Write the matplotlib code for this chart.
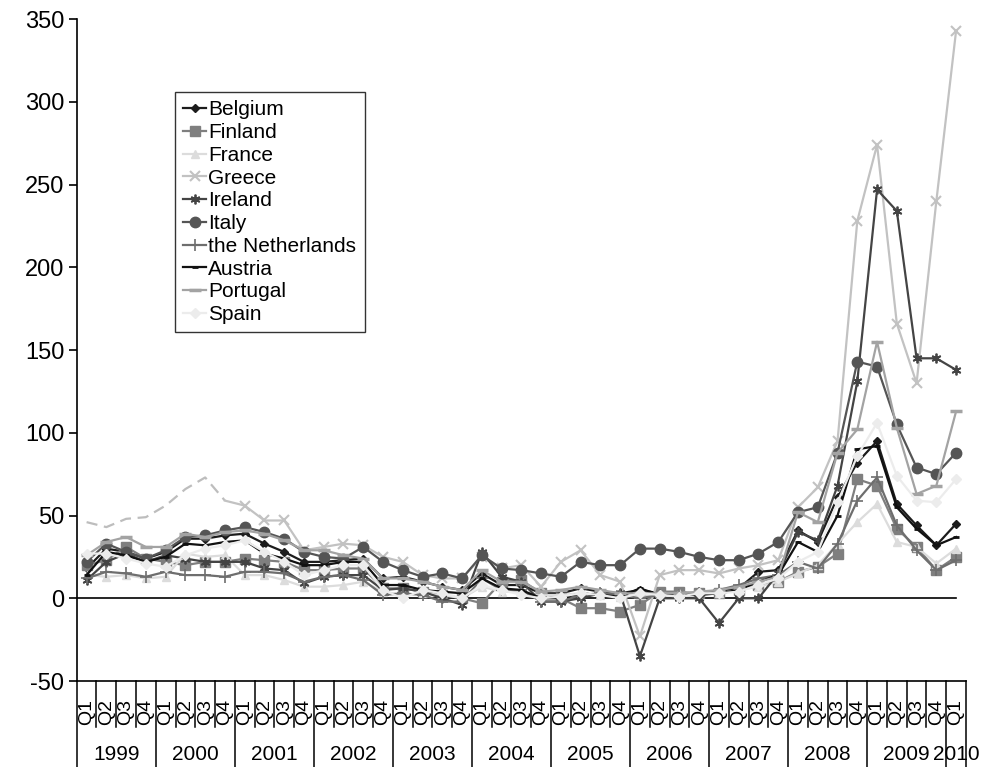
import matplotlib
matplotlib.use("Agg")
import matplotlib.pyplot as plt
from matplotlib.transforms import blended_transform_factory

plt.rcParams['font.family'] = ['Liberation Sans', 'DejaVu Sans']
plt.rcParams['axes.unicode_minus'] = False

# Quarterly periods 1999 Q1 .. 2010 Q1
years = ["1999", "2000", "2001", "2002", "2003", "2004", "2005",
         "2006", "2007", "2008", "2009", "2010"]
quarters_per_year = [4] * 11 + [1]
quarter_labels = ["Q1", "Q2", "Q3", "Q4"] * 11 + ["Q1"]

belgium = [18, 30, 28, 24, 28, 36, 36, 38, 39, 33, 28, 22, 22, 23, 24, 12,
           13, 10, 7, 5, 15, 8, 8, 3, 3, 6, 4, 3, 5, 3, 2, 2,
           4, 6, 16, 17, 41, 34, 61, 82, 95, 57, 44, 32, 45]
finland = [20, 23, 31, 24, 22, 20, 22, 22, 24, 23, 22, 17, 17, 18, 18, 6,
           6, 4, 2, 0, -3, 10, 11, 3, 0, -6, -6, -8, -4, 4, 4, 3,
           3, 5, 8, 10, 16, 19, 27, 72, 68, 42, 31, 17, 25]
france = [14, 13, 14, 12, 13, 27, 25, 26, 14, 14, 11, 7, 7, 8, 10, 4,
          2, 3, 2, 0, 7, 4, 4, 2, 2, 3, 2, 1, 2, 2, 3, 4,
          3, 5, 7, 10, 15, 20, 33, 46, 57, 34, 31, 21, 30]
greece_pre = [46, 43, 48, 49, 56, 66, 73, 59]
greece = [56, 47, 47, 29, 31, 33, 32, 25,
          22, 14, 12, 12, 25, 18, 20, 7, 22, 29, 14, 10, -23, 14, 17, 17,
          15, 18, 20, 23, 55, 67, 95, 228, 274, 166, 130, 240, 343]
ireland = [11, 22, 27, 22, 26, 24, 22, 22, 22, 18, 17, 9, 13, 14, 14, 5,
           6, 4, 0, -4, 28, 13, 10, -2, -2, 0, 3, 3, -35, 0, 0, 0,
           -15, 0, 0, 15, 40, 35, 68, 131, 247, 234, 145, 145, 138]
italy = [22, 33, 28, 24, 29, 37, 38, 41, 43, 40, 36, 28, 25, 24, 31, 22,
         17, 13, 15, 12, 26, 18, 17, 15, 13, 22, 20, 20, 30, 30, 28, 25,
         23, 23, 27, 34, 52, 55, 88, 143, 140, 105, 79, 75, 88]
netherlands = [12, 16, 15, 13, 16, 14, 14, 13, 16, 16, 15, 10, 13, 14, 11, 2,
               3, 2, -2, -2, 12, 5, 5, -2, -2, 2, 3, 2, 0, 2, 2, 3,
               5, 8, 12, 14, 22, 18, 33, 59, 73, 44, 29, 17, 23]
austria = [14, 28, 26, 22, 25, 33, 32, 34, 35, 27, 24, 20, 20, 22, 22, 8,
           8, 5, 4, 3, 12, 6, 5, 0, 0, 3, 2, 1, 6, 2, 2, 2,
           3, 5, 10, 14, 34, 28, 50, 90, 92, 55, 42, 32, 37]
portugal = [26, 34, 37, 31, 31, 39, 37, 40, 41, 39, 35, 29, 29, 26, 24, 12,
            12, 10, 7, 5, 17, 10, 10, 4, 5, 7, 5, 3, 3, 3, 3, 4,
            5, 7, 10, 13, 52, 46, 88, 102, 155, 103, 63, 68, 113]
spain = [27, 27, 24, 21, 19, 26, 30, 32, 35, 28, 22, 14, 17, 20, 20, 5,
         0, 5, 3, 0, 8, 5, 2, 0, 1, 3, 2, 0, 3, 2, 1, 3,
         3, 4, 8, 12, 22, 28, 58, 86, 106, 74, 59, 58, 72]

n = len(quarter_labels)
x = list(range(n))

fig = plt.figure(figsize=(9.81, 7.67), dpi=100)
ax = fig.add_axes([0.0782, 0.1121, 0.9065, 0.8631])

lw = 1.6
asterisk = (6, 2, 0)

ax.plot(x, belgium, color="#1c1c1c", lw=lw, marker="D", ms=4, label="Belgium")
ax.plot(x, finland, color="#7f7f7f", lw=lw, marker="s", ms=6.5, label="Finland")
ax.plot(x, france, color="#dcdcdc", lw=lw, marker="^", ms=6, label="France")
ax.plot(x[:8], greece_pre, color="#bdbdbd", lw=lw, dashes=(5, 3))
ax.plot(x[7:], [greece_pre[-1]] + greece, color="#c2c2c2", lw=lw,
        marker="x", ms=6.5, mew=1.5, markevery=list(range(1, len(greece) + 1)))
ax.plot([], [], color="#c2c2c2", lw=lw, marker="x", ms=6.5, mew=1.5, label="Greece")
ax.plot(x, ireland, color="#444444", lw=lw, marker=asterisk, ms=7, mew=1.3, label="Ireland")
ax.plot(x, italy, color="#555555", lw=lw, marker="o", ms=7.5, label="Italy")
ax.plot(x, netherlands, color="#6e6e6e", lw=lw, marker="+", ms=9, mew=1.2,
        label="the Netherlands")
ax.plot(x, austria, color="#111111", lw=lw, marker="_", ms=5, mew=2, label="Austria")
ax.plot(x, portugal, color="#a3a3a3", lw=lw, marker="_", ms=8, mew=2.5, label="Portugal")
ax.plot(x, spain, color="#ececec", lw=lw, marker="D", ms=5, label="Spain")

# zero reference line
ax.plot([-0.5, n - 1], [0, 0], color="black", lw=1.2, zorder=0.5)

ax.set_xlim(-0.5, n - 0.5)
ax.set_ylim(-50, 350)
ax.set_yticks(range(-50, 351, 50))
ax.tick_params(axis="y", labelsize=17, length=6, width=1.2, pad=3, direction="out")
ax.set_xticks([])
for s in ("top", "right"):
    ax.spines[s].set_visible(False)
for s in ("left", "bottom"):
    ax.spines[s].set_linewidth(1.2)

# category axis: quarter cells grouped by year
tr = blended_transform_factory(ax.transData, ax.transAxes)
year_bounds = [-0.5]
for q in quarters_per_year:
    year_bounds.append(year_bounds[-1] + q)
for b in [i - 0.5 for i in range(n + 1)]:
    bottom = -0.13 if b in year_bounds else -0.0695
    ax.plot([b, b], [0, bottom], transform=tr, color="black", lw=1.1,
            clip_on=False)
for i, lab in enumerate(quarter_labels):
    ax.text(i, -0.047, lab, transform=tr, rotation=90, ha="center",
            va="center", fontsize=14, clip_on=False)
for k, yr in enumerate(years):
    centre = (year_bounds[k] + year_bounds[k + 1]) / 2
    ax.text(centre, -0.111, yr, transform=tr, ha="center", va="center",
            fontsize=15, clip_on=False)

leg = ax.legend(loc="upper left", bbox_to_anchor=(0.1105, 0.8897),
                borderaxespad=0, fontsize=15, frameon=True, fancybox=False,
                edgecolor="black", handlelength=1.1, handletextpad=0.1,
                labelspacing=0.18, borderpad=0.4)
leg.get_frame().set_linewidth(1.0)

fig.savefig("out.png", dpi=100, facecolor="white")
